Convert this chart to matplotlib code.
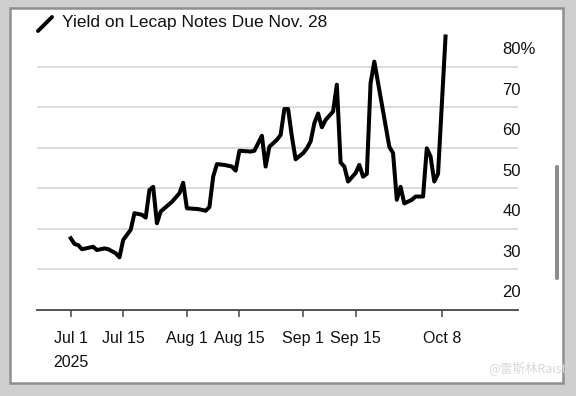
import matplotlib
matplotlib.use("Agg")
import matplotlib.pyplot as plt
from matplotlib.patches import Rectangle, FancyBboxPatch
from matplotlib.lines import Line2D
import pandas as pd

# Данные
dates = [
    "2025-07-01", "2025-07-02", "2025-07-03", "2025-07-04", "2025-07-06",
    "2025-07-07", "2025-07-08", "2025-07-10", "2025-07-11", "2025-07-13",
    "2025-07-14", "2025-07-15", "2025-07-17", "2025-07-18", "2025-07-20",
    "2025-07-21", "2025-07-22", "2025-07-23", "2025-07-24", "2025-07-25",
    "2025-07-28", "2025-07-30", "2025-07-31", "2025-08-01", "2025-08-04",
    "2025-08-06", "2025-08-07", "2025-08-08", "2025-08-09", "2025-08-11",
    "2025-08-13", "2025-08-14", "2025-08-15", "2025-08-18", "2025-08-19",
    "2025-08-21", "2025-08-22", "2025-08-23", "2025-08-25", "2025-08-26",
    "2025-08-27", "2025-08-28", "2025-08-29", "2025-08-30", "2025-09-01",
    "2025-09-02", "2025-09-03", "2025-09-04", "2025-09-05", "2025-09-06",
    "2025-09-07", "2025-09-09", "2025-09-10", "2025-09-11", "2025-09-12",
    "2025-09-13", "2025-09-15", "2025-09-16", "2025-09-17", "2025-09-18",
    "2025-09-19", "2025-09-20", "2025-09-24", "2025-09-25", "2025-09-26",
    "2025-09-27", "2025-09-28", "2025-09-30", "2025-10-01", "2025-10-03",
    "2025-10-04", "2025-10-05", "2025-10-06", "2025-10-07", "2025-10-09",
]
yields = [
    37.7, 36.3, 36.0, 35.0, 35.4,
    35.6, 34.8, 35.2, 35.0, 34.0,
    33.0, 37.3, 39.8, 43.9, 43.5,
    42.8, 49.6, 50.4, 41.4, 44.3,
    46.7, 48.8, 51.4, 45.1, 44.9,
    44.5, 45.4, 52.9, 56.0, 55.8,
    55.4, 54.4, 59.3, 59.1, 59.3,
    63.0, 55.4, 60.3, 62.0, 63.2,
    69.6, 69.6, 62.8, 57.2, 58.7,
    59.9, 61.6, 66.1, 68.5, 65.1,
    66.9, 69.0, 75.6, 56.4, 55.4,
    51.7, 53.8, 55.8, 52.9, 53.6,
    76.0, 81.3, 60.3, 58.7, 47.2,
    50.4, 46.3, 47.2, 48.0, 48.0,
    59.9, 57.9, 51.7, 53.6, 87.5,
]
tick_dates = ["2025-07-01", "2025-07-15", "2025-08-01", "2025-08-15",
              "2025-09-01", "2025-09-15", "2025-10-08"]
tick_labels = ["Jul 1\n2025", "Jul 15", "Aug 1", "Aug 15", "Sep 1", "Sep 15", "Oct 8"]
y_ticks = [20, 30, 40, 50, 60, 70, 80]
y_labels = ["20", "30", "40", "50", "60", "70", "80%"]
title = "Yield on Lecap Notes Due Nov. 28"

plt.rcParams["font.family"] = ["Liberation Sans", "DejaVu Sans"]

W, H = 576, 396
fig = plt.figure(figsize=(W / 100, H / 100), dpi=100)
fig.patch.set_facecolor("#cfcfcf")


def px(x, y):
    # пиксели от левого верхнего угла -> координаты фигуры
    return x / W, 1 - y / H


# белая карточка
card = Rectangle(px(10, 383), 553 / W, 375 / H, transform=fig.transFigure,
                 facecolor="white", edgecolor="#8f8f8f", linewidth=1.8, zorder=-5)
fig.patches.append(card)

# полоса прокрутки
sb = FancyBboxPatch(px(555, 280), 4 / W, 115 / H, boxstyle="round,pad=0,rounding_size=0.004",
                    transform=fig.transFigure, facecolor="#8c8c8c", edgecolor="none", zorder=-4)
fig.patches.append(sb)

# значок легенды и заголовок
x0, y0 = px(38, 31)
x1, y1 = px(52, 17)
fig.add_artist(Line2D([x0, x1], [y0, y1], transform=fig.transFigure,
                      color="black", linewidth=2.8, solid_capstyle="round"))
tx, ty = px(62, 23)
fig.text(tx, ty, title, fontsize=12.5, va="center", ha="left", color="#111111")

# оси
left, bottom = px(37, 310)
ax = fig.add_axes([left, bottom, 481 / W, 280 / H])
ax.set_facecolor("none")

df = pd.DataFrame({"date": pd.to_datetime(dates), "yield": yields})
ax.plot(df["date"], df["yield"], color="black", linewidth=2.9,
        solid_joinstyle="round", zorder=3)

ax.set_xlim(pd.Timestamp("2025-06-22"), pd.Timestamp("2025-10-28 08:00"))
ax.set_ylim(20, 89.1)

for s in ["top", "right", "left"]:
    ax.spines[s].set_visible(False)
ax.spines["bottom"].set_color("#444444")
ax.spines["bottom"].set_linewidth(1.3)

ax.set_yticks(y_ticks[1:])
ax.yaxis.grid(True, color="#dcdcdc", linewidth=1.4)
ax.tick_params(axis="y", left=False, labelleft=False)

ax.set_xticks(pd.to_datetime(tick_dates))
ax.set_xticklabels(tick_labels, fontsize=11.5, color="#111111", linespacing=1.8)
ax.tick_params(axis="x", length=5, width=1.1, color="#444444", pad=10)

# подписи оси Y над линиями сетки
trans = matplotlib.transforms.blended_transform_factory(ax.transAxes, ax.transData)
for v, lab in zip(y_ticks, y_labels):
    ax.text(0.968, v + 4.2, lab, transform=trans, fontsize=12,
            ha="left", va="center", color="#111111")

# водяной знак
fig.text(*px(488, 369), "@雷斯林Raist", fontsize=9, color="#d8d8d8",
         family=["Noto Sans CJK SC", "DejaVu Sans"], ha="left", va="center")

plt.savefig("out.png", dpi=100, facecolor=fig.get_facecolor())
plt.close()
